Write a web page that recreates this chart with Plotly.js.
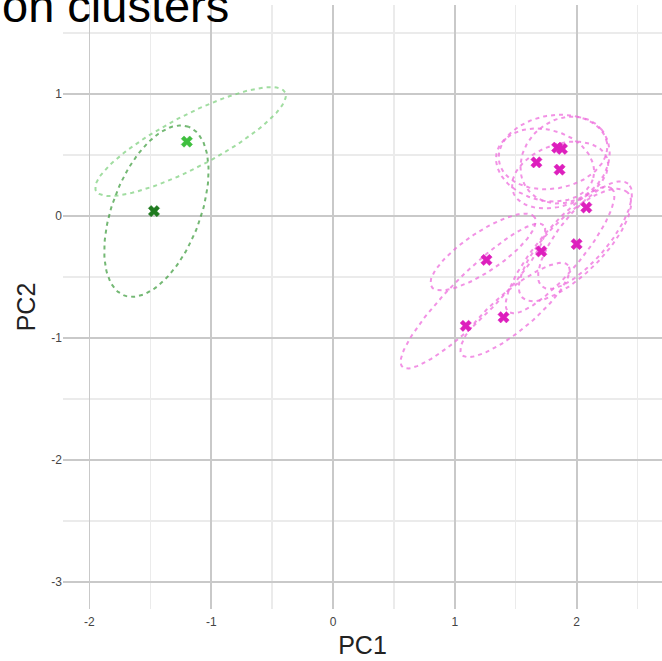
<!DOCTYPE html>
<html>
<head>
<meta charset="utf-8">
<script src="https://cdn.plot.ly/plotly-3.0.1.min.js"></script>
<style>html,body{margin:0;padding:0;background:#fff;}#chart{width:662px;height:661px;}</style>
</head>
<body>
<div id="chart"></div>
<script>
// ---- data ----
const titleText = "on clusters";
const xTickVals = [-2, -1, 0, 1, 2];
const yTickVals = [-3, -2, -1, 0, 1];

// cluster points
const greenDarkX = [-1.47];
const greenDarkY = [0.04];
const greenLightX = [-1.20];
const greenLightY = [0.61];
const magentaX = [1.84, 1.88, 1.67, 1.86, 2.08, 2.00, 1.71, 1.26, 1.40, 1.09];
const magentaY = [0.56, 0.55, 0.44, 0.38, 0.07, -0.23, -0.29, -0.36, -0.83, -0.90];

// ellipses: centre x, centre y, semi-axis a, semi-axis b, angle (deg)
const greenDarkEll = {cx: [-1.45], cy: [0.04], a: [0.74], b: [0.36], ang: [69]};
const greenLightEll = {cx: [-1.17], cy: [0.61], a: [0.875], b: [0.214], ang: [27.5]};
const magentaEllCx  = [1.806, 1.741, 1.905, 1.864, 2.069, 1.987, 1.864, 1.232, 1.149, 1.494];
const magentaEllCy  = [0.525, 0.418, 0.459, 0.336, -0.156, -0.238, -0.279, -0.295, -0.656, -0.770];
const magentaEllA   = [0.45, 0.41, 0.39, 0.41, 0.55, 0.61, 0.66, 0.51, 0.82, 0.57];
const magentaEllB   = [0.30, 0.29, 0.33, 0.25, 0.20, 0.23, 0.18, 0.16, 0.18, 0.16];
const magentaEllAng = [10, -15, 40, 20, 50, 45, 50, 34, 45, 40];

function ellipse(cx, cy, a, b, angDeg) {
  const t = angDeg * Math.PI / 180, xs = [], ys = [];
  for (let i = 0; i <= 120; i++) {
    const u = 2 * Math.PI * i / 120;
    const ex = a * Math.cos(u), ey = b * Math.sin(u);
    xs.push(cx + ex * Math.cos(t) - ey * Math.sin(t));
    ys.push(cy + ex * Math.sin(t) + ey * Math.cos(t));
  }
  return {x: xs, y: ys};
}

const traces = [];
function addEll(cx, cy, a, b, ang, color) {
  const e = ellipse(cx, cy, a, b, ang);
  traces.push({type: 'scatter', mode: 'lines', x: e.x, y: e.y, hoverinfo: 'skip',
    line: {color: color, width: 2, dash: '4px,4px'}});
}
addEll(greenDarkEll.cx[0], greenDarkEll.cy[0], greenDarkEll.a[0], greenDarkEll.b[0], greenDarkEll.ang[0], 'rgba(70,160,70,0.75)');
addEll(greenLightEll.cx[0], greenLightEll.cy[0], greenLightEll.a[0], greenLightEll.b[0], greenLightEll.ang[0], 'rgba(130,210,130,0.75)');
for (let i = 0; i < magentaEllCx.length; i++) {
  addEll(magentaEllCx[i], magentaEllCy[i], magentaEllA[i], magentaEllB[i], magentaEllAng[i], 'rgba(238,110,220,0.75)');
}
traces.push({type: 'scatter', mode: 'markers', x: greenDarkX, y: greenDarkY,
  marker: {symbol: 'x', size: 10, color: '#1f7a1f', line: {width: 0.5, color: '#1f7a1f'}}});
traces.push({type: 'scatter', mode: 'markers', x: greenLightX, y: greenLightY,
  marker: {symbol: 'x', size: 10, color: '#3fbf3f', line: {width: 0.5, color: '#3fbf3f'}}});
traces.push({type: 'scatter', mode: 'markers', x: magentaX, y: magentaY,
  marker: {symbol: 'x', size: 10, color: '#dd1fbd', line: {width: 0.5, color: '#dd1fbd'}}});

const layout = {
  width: 662, height: 661,
  margin: {l: 63, r: 0, t: 5, b: 52, pad: 0},
  paper_bgcolor: '#ffffff', plot_bgcolor: '#ffffff',
  showlegend: false,
  font: {family: 'Liberation Sans, Arial, sans-serif', color: '#000'},
  xaxis: {
    range: [-2.217, 2.701], tickvals: xTickVals, ticktext: xTickVals.map(String),
    showgrid: true, gridcolor: '#c9c9c9', gridwidth: 1.8, zeroline: false, showline: false,
    ticks: '', tickfont: {size: 12, color: '#444'}, ticklabelstandoff: 4,
    minor: {dtick: 0.5, tick0: 0.5, showgrid: true, gridcolor: '#ebebeb', gridwidth: 1.3},
    title: {text: 'PC1', font: {size: 25, color: '#222'}, standoff: 8}
  },
  yaxis: {
    range: [-3.221, 1.7295], tickvals: yTickVals, ticktext: yTickVals.map(String),
    showgrid: true, gridcolor: '#c9c9c9', gridwidth: 1.8, zeroline: false, showline: false,
    ticks: '', tickfont: {size: 12, color: '#444'},
    minor: {dtick: 0.5, tick0: 0.5, showgrid: true, gridcolor: '#ebebeb', gridwidth: 1.3},
    title: {text: 'PC2', font: {size: 25, color: '#222'}, standoff: 8}
  },
  annotations: [{
    text: titleText, xref: 'paper', yref: 'paper', x: -63 / 599, y: 1.0,
    xanchor: 'left', yanchor: 'middle', showarrow: false,
    font: {size: 47, color: '#000', family: 'Liberation Sans, Arial, sans-serif'}
  }]
};

Plotly.newPlot('chart', traces, layout, {displayModeBar: false, staticPlot: true});
</script>
</body>
</html>
